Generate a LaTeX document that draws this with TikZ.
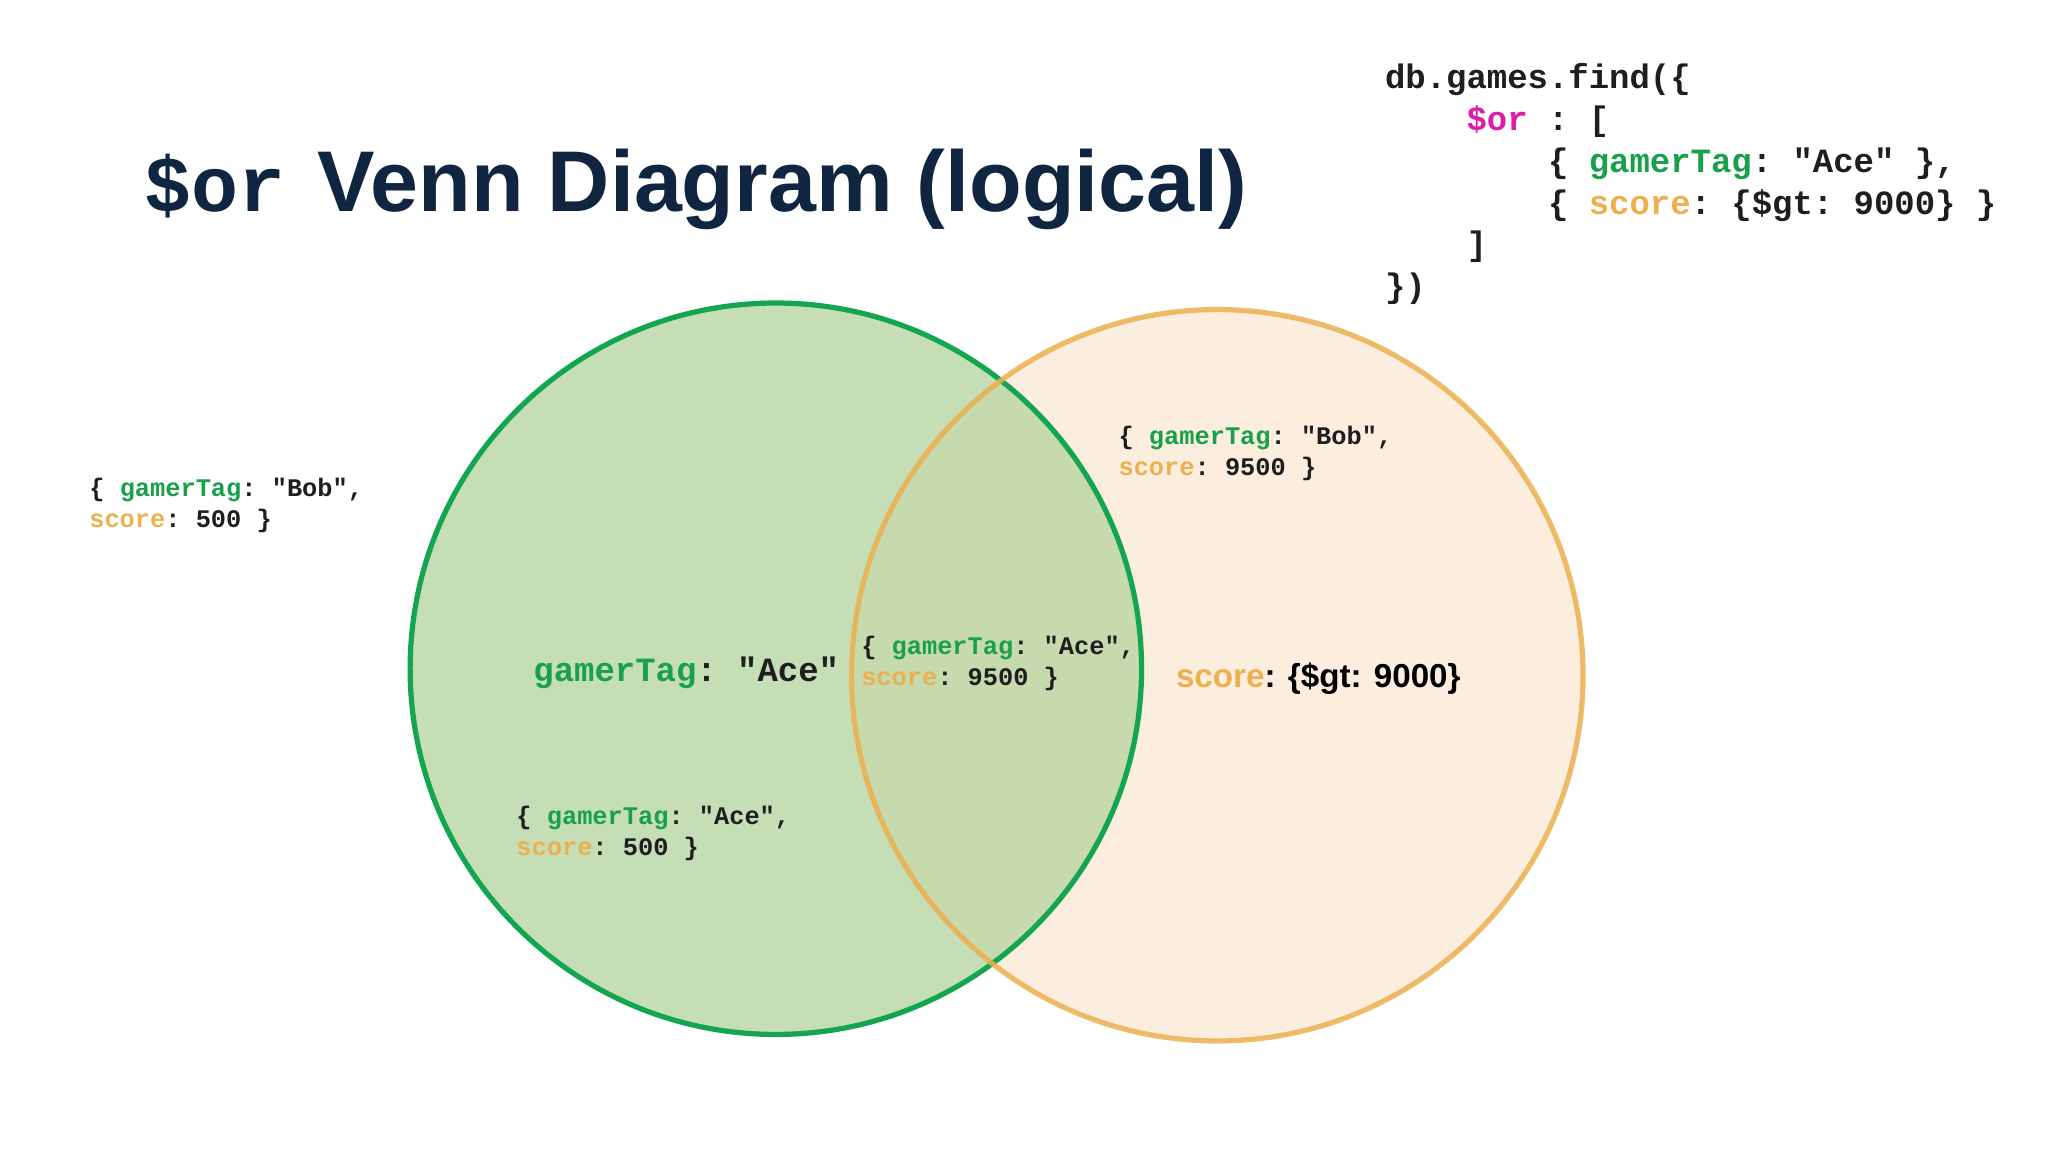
\documentclass[tikz,border=0pt]{standalone}
\usepackage{fontspec}
\setmainfont{Liberation Sans}
\setmonofont{Liberation Mono}
\definecolor{navy}{RGB}{16,37,64}
\definecolor{gr}{RGB}{25,160,75}
\definecolor{gline}{RGB}{20,165,80}
\definecolor{gfill}{RGB}{180,212,158}
\definecolor{og}{RGB}{236,176,80}
\definecolor{ofill}{RGB}{252,238,222}
\definecolor{mg}{RGB}{220,30,170}
\definecolor{dk}{RGB}{30,30,30}
\begin{document}
\begin{tikzpicture}[x=0.5pt,y=-0.5pt,
  code/.style={anchor=base west,inner sep=0,font=\fontsize{13}{16}\selectfont\ttfamily\bfseries,text=dk},
  small/.style={anchor=base west,inner sep=0,align=left,font=\fontsize{9.7}{12}\selectfont\ttfamily\bfseries,text=dk}]
\useasboundingbox[fill=white] (0,0) rectangle (1568,882);
% circles
\fill[ofill] (932,517) circle (280);
\fill[gfill,opacity=0.75] (594,512) circle (280);
\draw[gline,line width=2pt] (594,512) circle (280);
\draw[og,line width=2pt,opacity=0.85] (932,517) circle (280);
% title
\node[anchor=base west,inner sep=0,text=navy] (t1) at (110,162) {\fontsize{30}{30}\selectfont\ttfamily\bfseries \$or};
\node[anchor=base west,inner sep=0,text=navy] (t2) at (243,162) {\fontsize{33}{33}\selectfont\bfseries Venn Diagram (logical)};
% code
\node[code] (c1) at (1060,68) {db.games.find(\{};
\node[code] (c2) at (1060,100) {\phantom{xxxx}\textcolor{mg}{\$or} : [};
\node[code] (c3) at (1060,132) {\phantom{xxxxxxxx}\{ \textcolor{gr}{gamerTag}: "Ace" \},};
\node[code] (c4) at (1060,164) {\phantom{xxxxxxxx}\{ \textcolor{og}{score}: \{\$gt: 9000\} \}};
\node[code] (c5) at (1060,196) {\phantom{xxxx}]};
\node[code] (c6) at (1060,228) {\})};
% documents
\node[small] (d1) at (68,404) {\{ \textcolor{gr}{gamerTag}: "Bob",\\\textcolor{og}{score}: 500 \}};
\node[small] (d2) at (856,364) {\{ \textcolor{gr}{gamerTag}: "Bob",\\\textcolor{og}{score}: 9500 \}};
\node[small] (d3) at (659,525) {\{ \textcolor{gr}{gamerTag}: "Ace",\\\textcolor{og}{score}: 9500 \}};
\node[small] (d4) at (395,655) {\{ \textcolor{gr}{gamerTag}: "Ace",\\\textcolor{og}{score}: 500 \}};
% set labels
\node[anchor=base west,inner sep=0,text=dk] (l1) at (408,522) {\fontsize{13}{13}\selectfont\ttfamily\bfseries\textcolor{gr}{gamerTag}:  "Ace"};
\node[anchor=base west,inner sep=0,text=black] (l2) at (900,526) {\fontsize{12.7}{13}\selectfont\bfseries\textcolor{og}{score}: \{\$gt: 9000\}};
\end{tikzpicture}
\end{document}
